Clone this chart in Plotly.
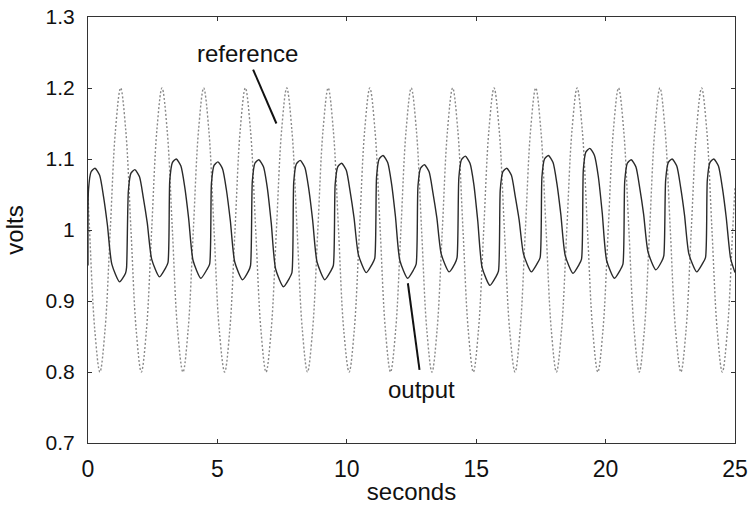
import plotly.graph_objects as go

# ---------------- data ----------------
# reference (dotted sinusoid): time [s], volts
ref_t = [0.00, 0.06, 0.26,
         0.46, 0.66, 0.86, 1.06, 1.26, 1.46, 1.66, 1.86,
         2.06, 2.26, 2.46, 2.66, 2.86, 3.06, 3.26, 3.46,
         3.67, 3.87, 4.07, 4.27, 4.47, 4.67, 4.87, 5.07,
         5.28, 5.48, 5.68, 5.88, 6.08, 6.28, 6.48, 6.68,
         6.88, 7.08, 7.28, 7.48, 7.68, 7.88, 8.08, 8.28,
         8.48, 8.68, 8.88, 9.08, 9.28, 9.48, 9.68, 9.88,
         10.09, 10.29, 10.49, 10.69, 10.89, 11.09, 11.29, 11.49,
         11.69, 11.89, 12.09, 12.29, 12.49, 12.69, 12.89, 13.09,
         13.29, 13.49, 13.69, 13.89, 14.09, 14.29, 14.49, 14.69,
         14.89, 15.09, 15.29, 15.49, 15.69, 15.89, 16.09, 16.29,
         16.50, 16.70, 16.90, 17.10, 17.30, 17.50, 17.70, 17.90,
         18.10, 18.30, 18.50, 18.70, 18.90, 19.10, 19.30, 19.50,
         19.70, 19.90, 20.10, 20.30, 20.50, 20.70, 20.90, 21.10,
         21.30, 21.50, 21.70, 21.90, 22.10, 22.30, 22.50, 22.70,
         22.91, 23.11, 23.31, 23.51, 23.71, 23.91, 24.11, 24.31,
         24.51, 24.71, 24.91, 25.00]
ref_v = [1.05, 1.00, 0.86,
         0.80, 0.86, 1.00, 1.14, 1.20, 1.14, 1.00, 0.86,
         0.80, 0.86, 1.00, 1.14, 1.20, 1.14, 1.00, 0.86,
         0.80, 0.86, 1.00, 1.14, 1.20, 1.14, 1.00, 0.86,
         0.80, 0.86, 1.00, 1.14, 1.20, 1.14, 1.00, 0.86,
         0.80, 0.86, 1.00, 1.14, 1.20, 1.14, 1.00, 0.86,
         0.80, 0.86, 1.00, 1.14, 1.20, 1.14, 1.00, 0.86,
         0.80, 0.86, 1.00, 1.14, 1.20, 1.14, 1.00, 0.86,
         0.80, 0.86, 1.00, 1.14, 1.20, 1.14, 1.00, 0.86,
         0.80, 0.86, 1.00, 1.14, 1.20, 1.14, 1.00, 0.86,
         0.80, 0.86, 1.00, 1.14, 1.20, 1.14, 1.00, 0.86,
         0.80, 0.86, 1.00, 1.14, 1.20, 1.14, 1.00, 0.86,
         0.80, 0.86, 1.00, 1.14, 1.20, 1.14, 1.00, 0.86,
         0.80, 0.86, 1.00, 1.14, 1.20, 1.14, 1.00, 0.86,
         0.80, 0.86, 1.00, 1.14, 1.20, 1.14, 1.00, 0.86,
         0.80, 0.86, 1.00, 1.14, 1.20, 1.14, 1.00, 0.86,
         0.80, 0.86, 1.00, 1.06]

# output (solid, rounded square-like wave): time [s], volts
out_t = [0.00, 0.02, 0.12, 0.27, 0.45, 0.60, 0.75, 0.92, 1.22, 1.45,
         1.49, 1.56, 1.66, 1.81, 1.99, 2.14, 2.29, 2.46, 2.76, 2.99,
         3.09, 3.16, 3.26, 3.41, 3.59, 3.74, 3.89, 4.06, 4.36, 4.59,
         4.70, 4.77, 4.87, 5.02, 5.20, 5.35, 5.50, 5.67, 5.97, 6.20,
         6.28, 6.35, 6.45, 6.60, 6.78, 6.93, 7.08, 7.25, 7.55, 7.78,
         7.88, 7.95, 8.05, 8.20, 8.38, 8.53, 8.68, 8.85, 9.15, 9.38,
         9.48, 9.55, 9.65, 9.80, 9.98, 10.13, 10.28, 10.45, 10.75, 10.98,
         11.08, 11.15, 11.25, 11.40, 11.58, 11.73, 11.88, 12.05, 12.35, 12.58,
         12.68, 12.75, 12.85, 13.00, 13.18, 13.33, 13.48, 13.65, 13.95, 14.18,
         14.26, 14.33, 14.43, 14.58, 14.76, 14.91, 15.06, 15.23, 15.53, 15.76,
         15.86, 15.93, 16.03, 16.18, 16.36, 16.51, 16.66, 16.83, 17.13, 17.36,
         17.47, 17.54, 17.64, 17.79, 17.97, 18.12, 18.27, 18.44, 18.74, 18.97,
         19.07, 19.14, 19.24, 19.39, 19.57, 19.72, 19.87, 20.04, 20.34, 20.57,
         20.67, 20.74, 20.84, 20.99, 21.17, 21.32, 21.47, 21.64, 21.94, 22.17,
         22.25, 22.32, 22.42, 22.57, 22.75, 22.90, 23.05, 23.22, 23.52, 23.75,
         23.86, 23.93, 24.03, 24.18, 24.36, 24.51, 24.66, 24.83, 25.00]
out_v = [0.950, 1.057, 1.082, 1.087, 1.077, 1.047, 1.007, 0.952, 0.927, 0.939,
         0.947, 1.055, 1.080, 1.085, 1.075, 1.045, 1.010, 0.959, 0.934, 0.946,
         0.954, 1.070, 1.095, 1.100, 1.090, 1.060, 1.016, 0.957, 0.932, 0.944,
         0.952, 1.066, 1.091, 1.096, 1.086, 1.056, 1.013, 0.955, 0.930, 0.942,
         0.950, 1.069, 1.094, 1.099, 1.089, 1.059, 1.010, 0.945, 0.920, 0.932,
         0.940, 1.068, 1.093, 1.098, 1.088, 1.058, 1.014, 0.955, 0.930, 0.942,
         0.950, 1.064, 1.089, 1.094, 1.084, 1.054, 1.017, 0.965, 0.940, 0.952,
         0.960, 1.075, 1.100, 1.105, 1.095, 1.065, 1.019, 0.957, 0.932, 0.944,
         0.952, 1.062, 1.087, 1.092, 1.082, 1.052, 1.017, 0.966, 0.941, 0.953,
         0.961, 1.074, 1.099, 1.104, 1.094, 1.064, 1.013, 0.947, 0.922, 0.934,
         0.942, 1.057, 1.082, 1.087, 1.077, 1.047, 1.014, 0.966, 0.941, 0.953,
         0.961, 1.075, 1.100, 1.105, 1.095, 1.065, 1.022, 0.964, 0.939, 0.951,
         0.959, 1.085, 1.110, 1.115, 1.105, 1.075, 1.024, 0.957, 0.932, 0.944,
         0.952, 1.069, 1.094, 1.099, 1.089, 1.059, 1.022, 0.969, 0.944, 0.956,
         0.964, 1.070, 1.095, 1.100, 1.090, 1.060, 1.021, 0.966, 0.941, 0.953,
         0.961, 1.070, 1.095, 1.100, 1.090, 1.060, 1.018, 0.960, 0.940]

x_ticks = [0, 5, 10, 15, 20, 25]
y_ticks = [0.7, 0.8, 0.9, 1.0, 1.1, 1.2, 1.3]
y_tick_text = ["0.7", "0.8", "0.9", "1", "1.1", "1.2", "1.3"]

FONT = "Liberation Sans, Arial, sans-serif"
INK = "#111111"
FS = 24

fig = go.Figure()
fig.add_trace(go.Scatter(x=ref_t, y=ref_v, mode="lines", name="reference",
                         line=dict(color="#8a8a8a", width=1.4, dash="2px,2px",
                                   shape="spline", smoothing=1.0)))
fig.add_trace(go.Scatter(x=out_t, y=out_v, mode="lines", name="output",
                         line=dict(color="#2a2a2a", width=1.4,
                                   shape="spline", smoothing=0.6)))

# callout labels and pointer lines
fig.add_annotation(x=6.17, y=1.249, text="reference", showarrow=False,
                   font=dict(size=FS, color=INK, family=FONT))
fig.add_shape(type="line", x0=6.38, y0=1.226, x1=7.28, y1=1.150,
              line=dict(color=INK, width=2))
fig.add_annotation(x=12.89, y=0.775, text="output", showarrow=False,
                   font=dict(size=FS, color=INK, family=FONT))
fig.add_shape(type="line", x0=12.36, y0=0.925, x1=12.81, y1=0.803,
              line=dict(color=INK, width=2))

axis_common = dict(showgrid=False, zeroline=False, showline=True,
                   linecolor="#333333", linewidth=1, mirror="allticks",
                   ticks="inside", ticklen=4, tickcolor="#333333",
                   ticklabeloverflow="allow")

fig.update_xaxes(range=[0, 25], tickvals=x_ticks, ticklabelstandoff=5,
                 tickfont=dict(size=23, color=INK, family=FONT),
                 title=dict(text="seconds", standoff=2,
                            font=dict(size=FS, color=INK, family=FONT)),
                 **axis_common)
fig.update_yaxes(range=[0.7, 1.3], tickvals=y_ticks, ticktext=y_tick_text,
                 ticklabelstandoff=8,
                 tickfont=dict(size=21, color=INK, family=FONT),
                 title=dict(text="volts", standoff=15,
                            font=dict(size=FS, color=INK, family=FONT)),
                 **axis_common)

fig.update_layout(width=748, height=506, showlegend=False,
                  paper_bgcolor="white", plot_bgcolor="white",
                  margin=dict(l=88, r=13, t=17, b=63, autoexpand=False))

# remove the default page margin so the 748x506 figure fills the window
fig.write_html("out.html",
               config={"displayModeBar": False},
               post_script="document.body.style.margin='0';"
                           "document.body.style.overflow='hidden';")
